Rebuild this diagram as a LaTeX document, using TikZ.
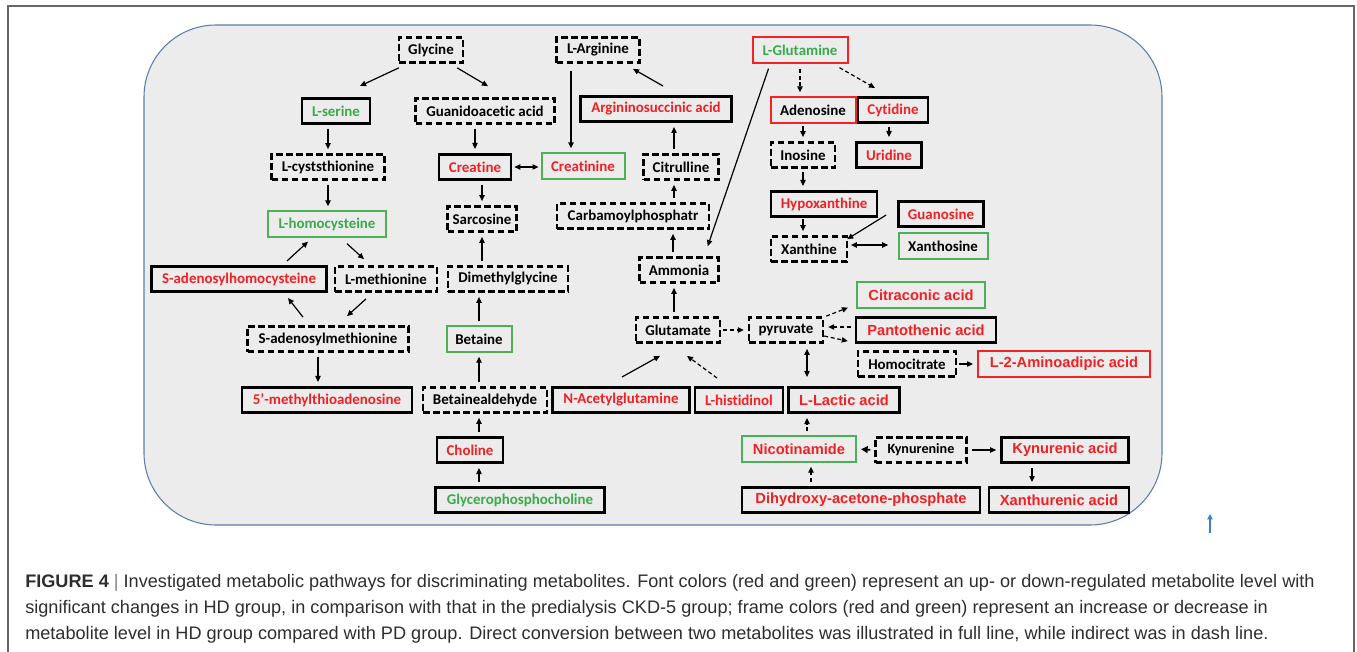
\documentclass[tikz,border=0pt]{standalone}
\usepackage{fontspec}
\setmainfont[Ligatures=NoCommon]{Carlito}
\newfontfamily\arialfont{Liberation Sans}
\usetikzlibrary{arrows.meta}

\definecolor{uptxt}{RGB}{240,32,36}
\definecolor{downtxt}{RGB}{58,170,74}
\definecolor{upframe}{RGB}{244,34,34}
\definecolor{downframe}{RGB}{76,176,86}
\definecolor{panelfill}{RGB}{236,236,236}
\definecolor{paneledge}{RGB}{92,126,172}
\definecolor{captext}{RGB}{45,45,45}
\definecolor{markblue}{RGB}{60,130,200}

\begin{document}
\begin{tikzpicture}[x=0.75pt, y=-0.75pt, inner sep=0mm,
    metab/.style={minimum height=19pt, font=\bfseries\fontsize{11.2}{13}\selectfont},
    dashbox/.style={metab, draw=black, line width=1.8pt, dash pattern=on 5pt off 2.5pt},
    blackbox/.style={metab, draw=black, line width=2pt},
    greenbox/.style={metab, draw=downframe, line width=1.5pt},
    redbox/.style={metab, draw=upframe, line width=1.5pt},
    uplabel/.style={text=uptxt},
    downlabel/.style={text=downtxt},
    arial/.style={font=\arialfont\bfseries\fontsize{11}{13}\selectfont},
    wd/.style={minimum width=#1*0.75pt},
    edgestyle/.style={line width=0.9pt, -{Triangle[length=4.5pt,width=4pt]}, shorten <=3pt, shorten >=3pt},
    dashedge/.style={edgestyle, dash pattern=on 3pt off 2pt},
    twoway/.style={edgestyle, {Triangle[length=4.5pt,width=4pt]}-{Triangle[length=4.5pt,width=4pt]}},
    slant/.style={line width=0.9pt, -{Triangle[length=4.5pt,width=4pt]}},
    caption/.style={anchor=west, text=captext, font=\arialfont\fontsize{13.6}{16}\selectfont}]

\useasboundingbox (0,0) rectangle (1357,652);
\draw [gray!80!black, line width=1pt] (8,652) -- (8,6) -- (1354,6) -- (1354,652);
\draw [fill=panelfill, draw=paneledge, line width=0.8pt, rounded corners=54pt] (144,25) rectangle (1162,525);

% left column
\node [dashbox, wd=64] (glycine) at (431,50) {Glycine};
\node [blackbox, downlabel, wd=68] (lserine) at (336,111) {L-serine};
\node [dashbox, wd=139] (guan) at (485,111) {Guanidoacetic acid};
\node [dashbox, wd=113] (lcyst) at (328,167) {L-cyststhionine};
\node [blackbox, uplabel, wd=72] (creatine) at (475,167) {Creatine};
\node [greenbox, uplabel, wd=83] (creatinine) at (583,166) {Creatinine};
\node [greenbox, downlabel, wd=118] (lhcys) at (327,224) {L-homocysteine};
\node [dashbox, wd=69] (sarcosine) at (482,219) {Sarcosine};
\node [blackbox, uplabel, wd=175] (sah) at (239,279) {S-adenosylhomocysteine};
\node [dashbox, wd=102] (lmet) at (386,279) {L-methionine};
\node [dashbox, wd=120] (dmg) at (508,279) {Dimethylglycine};
\node [dashbox, wd=161] (sam) at (328,339) {S-adenosylmethionine};
\node [greenbox, wd=65] (betaine) at (479,339) {Betaine};
\node [blackbox, uplabel, wd=170] (mta) at (327,400) {5’-methylthioadenosine};
\node [dashbox, wd=124] (bald) at (485,400) {Betainealdehyde};
\node [blackbox, uplabel, wd=66] (choline) at (470,450) {Choline};
\node [blackbox, downlabel, wd=169] (gpc) at (520,500) {Glycerophosphocholine};

% urea cycle
\node [dashbox, wd=83] (larg) at (598,50) {L-Arginine};
\node [blackbox, uplabel, wd=151] (asa) at (656,109) {Argininosuccinic acid};
\node [dashbox, wd=75] (citrulline) at (681,167) {Citrulline};
\node [dashbox, wd=152] (carb) at (633,216) {Carbamoylphosphatr};
\node [dashbox, wd=79] (ammonia) at (679,270) {Ammonia};
\node [dashbox, wd=84] (glutamate) at (678,330) {Glutamate};
\node [blackbox, uplabel, wd=137] (nacg) at (621,400) {N-Acetylglutamine};
\node [blackbox, uplabel, wd=88] (lhist) at (739,400) {L-histidinol};

% nucleosides
\node [redbox, downlabel, wd=95] (lgln) at (800,50) {L-Glutamine};
\node [redbox, wd=85] (adenosine) at (813,110) {Adenosine};
\node [blackbox, uplabel, wd=70] (cytidine) at (893,110) {Cytidine};
\node [dashbox, wd=64] (inosine) at (803,155) {Inosine};
\node [blackbox, uplabel, wd=65] (uridine) at (889,155) {Uridine};
\node [blackbox, uplabel, wd=106] (hypox) at (824,204) {Hypoxanthine};
\node [blackbox, uplabel, wd=85] (guanosine) at (941,214) {Guanosine};
\node [dashbox, wd=76] (xanthine) at (809,249) {Xanthine};
\node [greenbox, wd=89] (xanthosine) at (943,246) {Xanthosine};

% pyruvate and tryptophan
\node [dashbox, wd=74] (pyruvate) at (786,330) {pyruvate};
\node [greenbox, uplabel, arial, wd=128] (citraconic) at (921,295) {Citraconic acid};
\node [blackbox, uplabel, arial, wd=140] (panto) at (926,330) {Pantothenic acid};
\node [dashbox, wd=98] (homocit) at (907,364) {Homocitrate};
\node [redbox, uplabel, arial, wd=172] (l2aa) at (1064,364) {L-2-Aminoadipic acid};
\node [blackbox, uplabel, arial, wd=111] (lactic) at (844,400) {L-Lactic acid};
\node [greenbox, uplabel, arial, wd=114] (nicotin) at (799,449) {Nicotinamide};
\node [dashbox, wd=91, font=\bfseries\fontsize{10.6}{12}\selectfont] (kynurenine) at (921,450) {Kynurenine};
\node [blackbox, uplabel, arial, wd=127] (kynurenic) at (1065,450) {Kynurenic acid};
\node [blackbox, uplabel, arial, wd=238] (dhap) at (861,500) {Dihydroxy-acetone-phosphate};
\node [blackbox, uplabel, arial, wd=140] (xanthurenic) at (1059,500) {Xanthurenic acid};

% slanted connectors
\draw [slant] ([xshift=0.75pt,yshift=-3pt]glycine.south west) -- ([xshift=18pt,yshift=8.25pt]lserine.north);
\draw [slant] ([xshift=-5.25pt,yshift=-3pt]glycine.south east) -- ([xshift=2.25pt,yshift=8.25pt]guan.north);
\draw [slant] ([xshift=15pt,yshift=-4.5pt]lhcys.south) -- ([xshift=-16.5pt,yshift=4.5pt]lmet.north);
\draw [slant] ([xshift=36pt,yshift=3pt]sah.north) -- ([xshift=-14.25pt,yshift=-3pt]lhcys.south);
\draw [slant] ([xshift=-15pt,yshift=-4.5pt]lmet.south) -- ([xshift=14.25pt,yshift=6.75pt]sam.north);
\draw [slant] ([xshift=-18.75pt,yshift=6pt]sam.north) -- ([xshift=36.75pt,yshift=-3.75pt]sah.south);
\draw [slant] ([xshift=5.25pt,yshift=6.75pt]asa.north) -- ([xshift=26.25pt,yshift=-3.75pt]larg.south);
\draw [slant] ([xshift=12.75pt,yshift=-3.75pt]lgln.south west) -- ([xshift=-9pt,yshift=7.5pt]ammonia.north east);
\draw [slant, dash pattern=on 3pt off 2pt] ([xshift=-6.75pt,yshift=-3pt]lgln.south east) -- ([xshift=-13.5pt,yshift=6pt]cytidine.north);
\draw [slant] ([xshift=-8.25pt,yshift=-0.75pt]guanosine.west) -- ([xshift=-0.75pt,yshift=-3pt]xanthine.north east);
\draw [slant, dash pattern=on 3pt off 2pt] ([xshift=1.5pt]pyruvate.north east) -- ([xshift=-6pt,yshift=0.75pt]citraconic.south west);
\draw [slant, dash pattern=on 3pt off 2pt] ([yshift=-4.5pt]pyruvate.east) -- ([xshift=-6.75pt,yshift=6.75pt]homocit.north west);
\draw [slant] ([xshift=0.75pt,yshift=6.75pt]nacg.north) -- ([xshift=-13.5pt,yshift=-9pt]glutamate.south);
\draw [slant, dash pattern=on 3pt off 2pt] ([xshift=-16.5pt,yshift=6pt]lhist.north) -- ([xshift=6.75pt,yshift=-9pt]glutamate.south);

% straight connectors
\draw [edgestyle] (lserine.south -| lcyst) -- (lcyst.north);
\draw [edgestyle] (lcyst.south) -- (lcyst.south |- lhcys.north);
\draw [edgestyle] ([xshift=-7.5pt]sam.south) -- ([xshift=-7.5pt]sam.south |- mta.north);
\draw [edgestyle] (guan.south -| creatine) -- (creatine.north);
\draw [twoway, shorten <=1.5pt, shorten >=1.5pt] (creatine.east) -- (creatine.east -| creatinine.west);
\draw [edgestyle] (creatine.south -| sarcosine) -- (sarcosine.north);
\draw [edgestyle] (dmg.north -| sarcosine) -- (sarcosine.south);
\draw [edgestyle] (betaine.north) -- (betaine.north |- dmg.south);
\draw [edgestyle] (bald.north -| betaine) -- (betaine.south);
\draw [edgestyle] (choline.north -| betaine) -- (bald.south -| betaine);
\draw [edgestyle] (gpc.north -| betaine) -- (choline.south -| betaine);
\draw [edgestyle, shorten <=5pt] ([xshift=-20.25pt]larg.south) -- ([xshift=-9pt]creatinine.north);
\draw [edgestyle] ([xshift=-5.25pt]citrulline.north) -- ([xshift=-5.25pt]citrulline.north |- asa.south);
\draw [edgestyle] ([xshift=-5.25pt]citrulline.south |- carb.north) -- ([xshift=-5.25pt]citrulline.south);
\draw [edgestyle] ([xshift=-4.5pt]ammonia.north) -- ([xshift=-4.5pt]ammonia.north |- carb.south);
\draw [edgestyle] ([xshift=-3pt]glutamate.north) -- ([xshift=-3pt]glutamate.north |- ammonia.south);
\draw [dashedge, shorten <=4pt] (lgln.south) -- (lgln.south |- adenosine.north);
\draw [edgestyle, shorten <=2pt] (adenosine.south -| inosine) -- (inosine.north);
\draw [edgestyle, shorten <=2pt] (cytidine.south -| uridine) -- (uridine.north);
\draw [edgestyle, shorten <=2pt] (inosine.south) -- (inosine.south |- hypox.north);
\draw [edgestyle, shorten <=1pt] (hypox.south -| inosine) -- (xanthine.north -| inosine);
\draw [twoway, shorten <=2pt, shorten >=7pt] ([yshift=3pt]xanthine.east) -- ([yshift=3pt]xanthine.east -| xanthosine.west);
\draw [dashedge, shorten <=1.5pt] (glutamate.east) -- (pyruvate.west);
\draw [dashedge] ([yshift=2.25pt]panto.west) -- ([yshift=2.25pt]panto.west -| pyruvate.east);
\draw [edgestyle, shorten <=1.5pt] (homocit.east) -- (l2aa.west);
\draw [twoway, shorten <=3.75pt, shorten >=6.75pt] ([xshift=15.75pt]pyruvate.south) -- ([xshift=15.75pt]pyruvate.south |- lactic.north);
\draw [dashedge] ([xshift=6pt]nicotin.north) -- ([xshift=6pt]nicotin.north |- lactic.south);
\draw [dashedge] ([xshift=9pt]nicotin.south |- dhap.north) -- ([xshift=9pt]nicotin.south);
\draw [edgestyle, line width=1.3pt, -{Triangle[length=5pt,width=5pt]}] (kynurenine.west) -- (nicotin.east);
\draw [edgestyle] (kynurenine.east) -- (kynurenic.west);
\draw [edgestyle] ([xshift=-24.75pt]kynurenic.south) -- ([xshift=-24.75pt]kynurenic.south |- xanthurenic.north);

% stray mark
\coordinate (markfoot) at (1210,533);
\draw [markblue, line width=1.2pt, -{Triangle[length=4pt,width=4pt]}] (markfoot) -- ++(0,-19);

% caption
\node [caption] (cap1) at (25,583) {\textbf{FIGURE 4} {\color{gray}|} Investigated metabolic pathways for discriminating metabolites. Font colors (red and green) represent an up- or down-regulated metabolite level with};
\node [caption] (cap2) at (25,609) {significant changes in HD group, in comparison with that in the predialysis CKD-5 group; frame colors (red and green) represent an increase or decrease in};
\node [caption] (cap3) at (25,635) {metabolite level in HD group compared with PD group. Direct conversion between two metabolites was illustrated in full line, while indirect was in dash line.};
\end{tikzpicture}
\end{document}
